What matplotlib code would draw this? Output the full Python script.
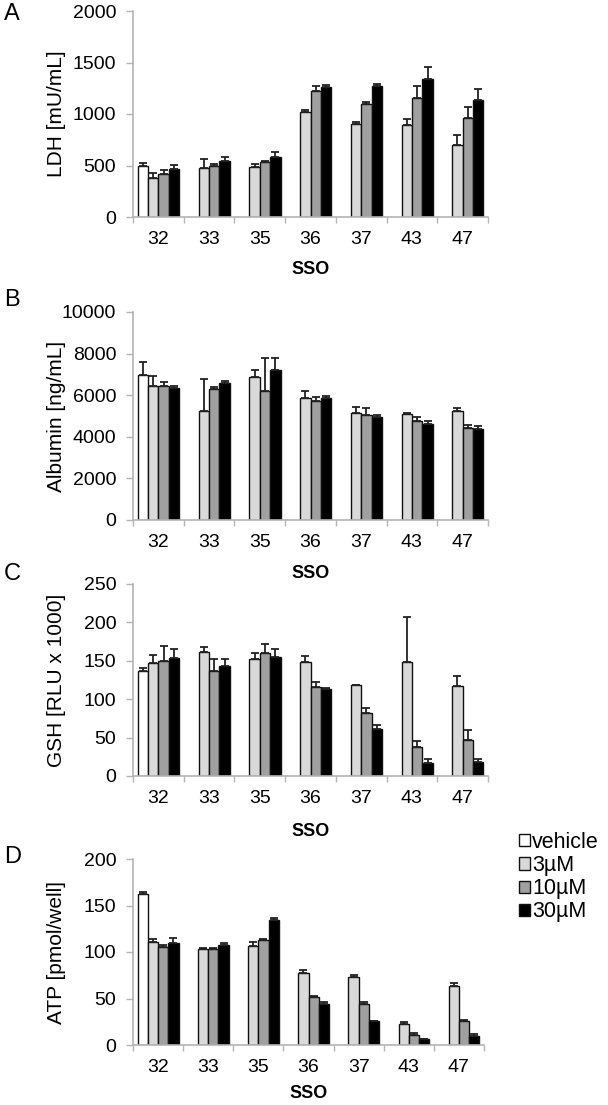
import numpy as np
import matplotlib
matplotlib.use("Agg")
import matplotlib.pyplot as plt
from matplotlib.patches import Patch

plt.rcParams['font.family'] = ['Liberation Sans', 'DejaVu Sans']

categories = ["32", "33", "35", "36", "37", "43", "47"]
series_names = ["vehicle", "3µM", "10µM", "30µM"]
colors = ["#ffffff", "#d9d9d9", "#a0a0a0", "#000000"]
nan = np.nan

# Panel A: LDH [mU/mL]
ldh_vehicle = [495, nan, nan, nan, nan, nan, nan]
ldh_3 = [382, 478, 490, 1018, 905, 895, 700]
ldh_10 = [421, 495, 535, 1225, 1095, 1160, 965]
ldh_30 = [466, 540, 585, 1266, 1270, 1340, 1140]
ldh_err_vehicle = [30, nan, nan, nan, nan, nan, nan]
ldh_err_3 = [42, 88, 20, 22, 15, 58, 100]
ldh_err_10 = [40, 17, 10, 45, 20, 112, 105]
ldh_err_30 = [35, 42, 45, 20, 20, 115, 100]

# Panel B: Albumin [ng/mL]
alb_vehicle = [6960, nan, nan, nan, nan, nan, nan]
alb_3 = [6460, 5240, 6860, 5860, 5160, 5090, 5225]
alb_10 = [6440, 6280, 6200, 5720, 5030, 4760, 4440]
alb_30 = [6350, 6570, 7200, 5860, 4960, 4630, 4390]
alb_err_vehicle = [640, nan, nan, nan, nan, nan, nan]
alb_err_3 = [450, 1520, 350, 340, 260, 65, 175]
alb_err_10 = [180, 130, 1600, 190, 340, 190, 110]
alb_err_30 = [110, 100, 590, 100, 110, 145, 110]

# Panel C: GSH [RLU x 1000]
gsh_vehicle = [137, nan, nan, nan, nan, nan, nan]
gsh_3 = [147, 161, 152, 148.5, 118, 148.5, 117]
gsh_10 = [150, 137, 160, 116, 82, 38, 47]
gsh_30 = [154, 143, 155, 113, 61.5, 17, 18]
gsh_err_vehicle = [3, nan, nan, nan, nan, nan, nan]
gsh_err_3 = [11, 6.5, 8, 8, 1, 59, 13]
gsh_err_10 = [19, 15, 12, 6, 6, 7, 13]
gsh_err_30 = [11, 9, 11, 2, 5, 5, 4]

# Panel D: ATP [pmol/well]
atp_vehicle = [162, nan, nan, nan, nan, nan, nan]
atp_3 = [110.5, 103.5, 106, 77, 73, 22.5, 63]
atp_10 = [105, 103, 113, 52, 44, 11, 25.5]
atp_30 = [110, 107, 134.5, 44, 25.5, 6, 10]
atp_err_vehicle = [3, nan, nan, nan, nan, nan, nan]
atp_err_3 = [3, 1, 4.5, 3.5, 2, 2.5, 3.5]
atp_err_10 = [2, 1, 1, 0.7, 2.5, 2, 1.5]
atp_err_30 = [5, 3, 2, 2, 0.5, 0.5, 2]

W, H = 608, 1105
panels = [
    dict(letter="A", ylabel="LDH [mU/mL]", ymax=2000, step=500,
         vals=[ldh_vehicle, ldh_3, ldh_10, ldh_30],
         errs=[ldh_err_vehicle, ldh_err_3, ldh_err_10, ldh_err_30],
         box=(133, 11, 488, 217), ly=14, sso=270),
    dict(letter="B", ylabel="Albumin [ng/mL]", ymax=10000, step=2000,
         vals=[alb_vehicle, alb_3, alb_10, alb_30],
         errs=[alb_err_vehicle, alb_err_3, alb_err_10, alb_err_30],
         box=(133, 312, 488, 520), ly=300, sso=574),
    dict(letter="C", ylabel="GSH [RLU x 1000]", ymax=250, step=50,
         vals=[gsh_vehicle, gsh_3, gsh_10, gsh_30],
         errs=[gsh_err_vehicle, gsh_err_3, gsh_err_10, gsh_err_30],
         box=(133, 584, 488, 776), ly=574, sso=832),
    dict(letter="D", ylabel="ATP [pmol/well]", ymax=200, step=50,
         vals=[atp_vehicle, atp_3, atp_10, atp_30],
         errs=[atp_err_vehicle, atp_err_3, atp_err_10, atp_err_30],
         box=(133, 859, 484, 1045), ly=857, sso=1093),
]

fig = plt.figure(figsize=(W / 100, H / 100), dpi=100)
x = np.arange(len(categories))
w = 0.205
spine_c = "#b4b4b4"
fs_tick = 14
fs_ylab = 15

for p in panels:
    x0, y0, x1, y1 = p["box"]
    wpx, hpx = x1 - x0, y1 - y0
    ax = fig.add_axes([x0 / W, 1 - y1 / H, wpx / W, hpx / H])
    for i, (v, e) in enumerate(zip(p["vals"], p["errs"])):
        pos = x + (i - 1.5) * w
        v = np.array(v, dtype=float)
        e = np.array(e, dtype=float)
        ax.bar(pos, v, width=w, color=colors[i], edgecolor="#111111",
               linewidth=1.0, zorder=2)
        ax.errorbar(pos, v, yerr=[np.zeros_like(e), e], fmt="none",
                    ecolor="#222222", elinewidth=1.3, capsize=3, capthick=1.3,
                    zorder=3)
    ax.set_xlim(-0.5, len(categories) - 0.5)
    ax.set_ylim(0, p["ymax"])
    ax.set_yticks(np.arange(0, p["ymax"] + 1, p["step"]))
    ax.set_xticks(x)
    ax.set_xticklabels(categories, fontsize=fs_tick)
    ax.set_xticks(np.arange(-0.5, len(categories)), minor=True)
    ax.tick_params(axis="x", which="major", length=0, pad=10)
    ax.tick_params(axis="x", which="minor", length=4, color=spine_c, width=1)
    ax.tick_params(axis="y", length=5, color=spine_c, width=1,
                   labelsize=fs_tick, pad=7)
    for s in ["top", "right"]:
        ax.spines[s].set_visible(False)
    for s in ["left", "bottom"]:
        ax.spines[s].set_color(spine_c)
        ax.spines[s].set_linewidth(1.2)
    ax.set_ylabel(p["ylabel"], fontsize=fs_ylab)
    ax.yaxis.label.set_va("center")
    ax.yaxis.set_label_coords((57 - x0) / wpx, 0.5)
    ax.set_xlabel("SSO", fontsize=13, fontweight="bold")
    ax.xaxis.label.set_va("center")
    ax.xaxis.set_label_coords(0.5, -(p["sso"] - y1) / hpx)
    fig.text(4 / W, 1 - p["ly"] / H, p["letter"], fontsize=17,
             ha="left", va="center")

handles = [Patch(facecolor=c, edgecolor="#111111", linewidth=1.0) for c in colors]
fig.legend(handles, series_names, loc="upper left",
           bbox_to_anchor=(519 / W, 1 - 832 / H), frameon=False,
           fontsize=15.5, handlelength=0.5, handleheight=0.5,
           handletextpad=0.12, labelspacing=0.1, borderpad=0,
           borderaxespad=0)

fig.savefig("out.png", dpi=100)
